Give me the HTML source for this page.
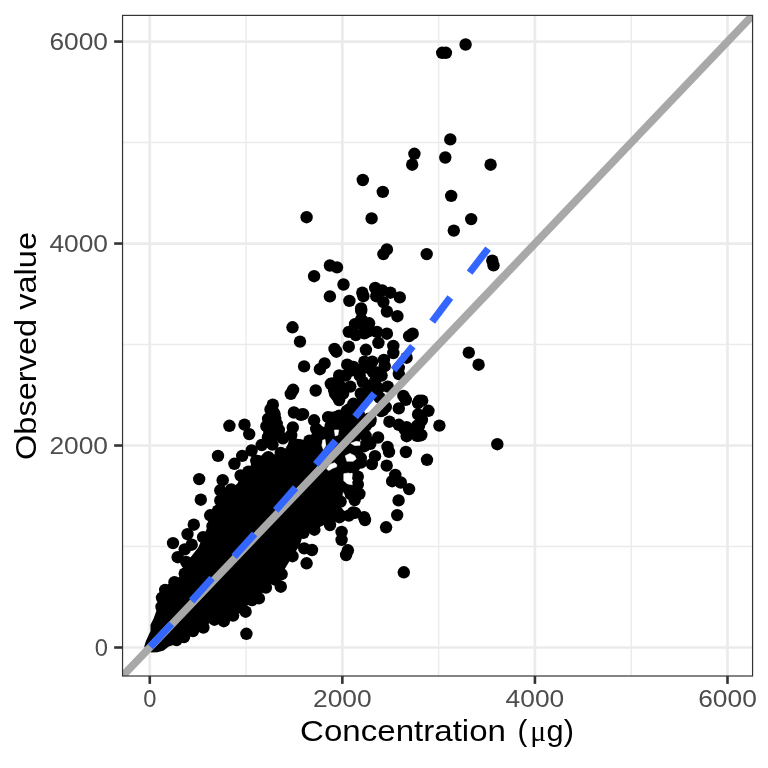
<!DOCTYPE html>
<html><head><meta charset="utf-8"><style>html,body{margin:0;padding:0;background:#fff;width:768px;height:768px;overflow:hidden}svg{display:block}</style></head>
<body><svg width="768" height="768" viewBox="0 0 768 768">
<rect width="768" height="768" fill="#fff"/>
<defs><filter id="gs" x="0" y="0" width="768" height="768" filterUnits="userSpaceOnUse"><feColorMatrix type="saturate" values="0"/></filter><clipPath id="cp"><rect x="122.55" y="15.4" width="630.0200000000001" height="660.6"/></clipPath></defs>
<line x1="246.06" y1="15.4" x2="246.06" y2="676.0" stroke="#ebebeb" stroke-width="1.4"/>
<line x1="122.55" y1="546.51" x2="752.57" y2="546.51" stroke="#ebebeb" stroke-width="1.4"/>
<line x1="438.63" y1="15.4" x2="438.63" y2="676.0" stroke="#ebebeb" stroke-width="1.4"/>
<line x1="122.55" y1="344.54" x2="752.57" y2="344.54" stroke="#ebebeb" stroke-width="1.4"/>
<line x1="631.21" y1="15.4" x2="631.21" y2="676.0" stroke="#ebebeb" stroke-width="1.4"/>
<line x1="122.55" y1="142.56" x2="752.57" y2="142.56" stroke="#ebebeb" stroke-width="1.4"/>
<line x1="149.77" y1="15.4" x2="149.77" y2="676.0" stroke="#ebebeb" stroke-width="2.7"/>
<line x1="122.55" y1="647.50" x2="752.57" y2="647.50" stroke="#ebebeb" stroke-width="2.7"/>
<line x1="342.35" y1="15.4" x2="342.35" y2="676.0" stroke="#ebebeb" stroke-width="2.7"/>
<line x1="122.55" y1="445.52" x2="752.57" y2="445.52" stroke="#ebebeb" stroke-width="2.7"/>
<line x1="534.92" y1="15.4" x2="534.92" y2="676.0" stroke="#ebebeb" stroke-width="2.7"/>
<line x1="122.55" y1="243.55" x2="752.57" y2="243.55" stroke="#ebebeb" stroke-width="2.7"/>
<line x1="727.50" y1="15.4" x2="727.50" y2="676.0" stroke="#ebebeb" stroke-width="2.7"/>
<line x1="122.55" y1="41.57" x2="752.57" y2="41.57" stroke="#ebebeb" stroke-width="2.7"/>
<g clip-path="url(#cp)">
<path d="M144.2,646.7 L145.8,641.2 L150.5,631.1 L150.5,624.8 L153.6,618.6 L155.9,612.3 L157.5,607.0 L158.8,605.8 L160.8,593.3 L169.2,582.9 L179.6,576.7 L183.8,564.2 L190.0,557.9 L198.3,547.5 L202.9,536.7 L207.1,528.3 L209.2,515.8 L215.4,509.6 L219.6,501.2 L219.6,490.8 L227.9,488.8 L236.2,486.7 L240.4,476.2 L248.8,470.0 L252.9,459.6 L259.0,455.0 L264.0,456.5 L270.0,455.0 L276.0,454.0 L284.0,451.0 L288.0,444.0 L290.4,432.5 L296.7,440.8 L305.0,440.8 L313.3,432.5 L325.8,428.3 L340.0,428.3 L345.0,420.0 L353.0,403.0 L361.0,393.0 L369.0,386.0 L378.0,388.0 L388.0,385.0 L378.0,393.0 L366.0,399.0 L361.0,412.0 L362.0,425.0 L355.0,440.0 L362.0,447.0 L358.0,460.0 L352.0,468.0 L345.0,475.0 L342.0,500.0 L340.0,515.0 L330.0,522.0 L314.4,529.7 L303.4,532.8 L300.0,545.0 L292.5,556.2 L281.6,574.2 L275.0,582.0 L265.9,587.5 L258.9,598.4 L251.9,600.0 L245.6,608.0 L233.1,615.0 L223.8,619.0 L214.4,619.7 L203.4,627.5 L193.0,631.0 L184.0,637.0 L176.5,640.0 L174.7,644.4 L168.4,646.7 L163.8,650.6 L157.5,652.2 L151.2,652.6 Z" fill="#000"/>
<circle cx="465.6" cy="44.5" r="6.2"/>
<circle cx="442.2" cy="52.8" r="6.2"/>
<circle cx="445.9" cy="52.8" r="6.2"/>
<circle cx="450.3" cy="139.4" r="6.2"/>
<circle cx="414.4" cy="153.8" r="6.2"/>
<circle cx="412.2" cy="164.7" r="6.2"/>
<circle cx="445.3" cy="157.5" r="6.2"/>
<circle cx="490.6" cy="164.7" r="6.2"/>
<circle cx="362.8" cy="180.0" r="6.2"/>
<circle cx="382.8" cy="191.9" r="6.2"/>
<circle cx="451.2" cy="195.9" r="6.2"/>
<circle cx="306.6" cy="217.2" r="6.2"/>
<circle cx="371.6" cy="218.4" r="6.2"/>
<circle cx="471.2" cy="219.1" r="6.2"/>
<circle cx="453.8" cy="230.6" r="6.2"/>
<circle cx="386.9" cy="249.4" r="6.2"/>
<circle cx="383.4" cy="254.1" r="6.2"/>
<circle cx="426.7" cy="254.1" r="6.2"/>
<circle cx="492.3" cy="260.6" r="6.2"/>
<circle cx="493.5" cy="265.3" r="6.2"/>
<circle cx="343.5" cy="284.5" r="6.2"/>
<circle cx="362.3" cy="292.7" r="6.2"/>
<circle cx="363.4" cy="296.2" r="6.2"/>
<circle cx="375.2" cy="288.0" r="6.2"/>
<circle cx="382.2" cy="290.4" r="6.2"/>
<circle cx="390.4" cy="292.7" r="6.2"/>
<circle cx="399.8" cy="297.4" r="6.2"/>
<circle cx="376.3" cy="296.2" r="6.2"/>
<circle cx="383.4" cy="302.1" r="6.2"/>
<circle cx="349.4" cy="300.9" r="6.2"/>
<circle cx="361.1" cy="308.4" r="6.2"/>
<circle cx="386.9" cy="311.5" r="6.2"/>
<circle cx="397.4" cy="316.2" r="6.2"/>
<circle cx="412.7" cy="333.7" r="6.2"/>
<circle cx="409.1" cy="336.1" r="6.2"/>
<circle cx="386.9" cy="333.7" r="6.2"/>
<circle cx="329.9" cy="265.5" r="6.2"/>
<circle cx="337.0" cy="267.4" r="6.2"/>
<circle cx="314.1" cy="276.2" r="6.2"/>
<circle cx="329.9" cy="296.4" r="6.2"/>
<circle cx="292.5" cy="327.3" r="6.2"/>
<circle cx="300.0" cy="341.6" r="6.2"/>
<circle cx="334.5" cy="348.9" r="6.2"/>
<circle cx="336.4" cy="351.7" r="6.2"/>
<circle cx="361.2" cy="310.8" r="6.2"/>
<circle cx="361.2" cy="319.4" r="6.2"/>
<circle cx="355.0" cy="324.1" r="6.2"/>
<circle cx="369.1" cy="323.3" r="6.2"/>
<circle cx="348.8" cy="331.9" r="6.2"/>
<circle cx="355.8" cy="335.0" r="6.2"/>
<circle cx="364.4" cy="333.4" r="6.2"/>
<circle cx="376.9" cy="331.9" r="6.2"/>
<circle cx="378.4" cy="342.8" r="6.2"/>
<circle cx="348.8" cy="346.7" r="6.2"/>
<circle cx="365.9" cy="349.8" r="6.2"/>
<circle cx="393.3" cy="345.9" r="6.2"/>
<circle cx="393.3" cy="353.0" r="6.2"/>
<circle cx="406.6" cy="357.7" r="6.2"/>
<circle cx="347.2" cy="364.7" r="6.2"/>
<circle cx="353.4" cy="367.0" r="6.2"/>
<circle cx="364.4" cy="361.6" r="6.2"/>
<circle cx="372.2" cy="361.6" r="6.2"/>
<circle cx="383.9" cy="360.0" r="6.2"/>
<circle cx="384.7" cy="366.2" r="6.2"/>
<circle cx="398.8" cy="367.8" r="6.2"/>
<circle cx="398.8" cy="374.1" r="6.2"/>
<circle cx="345.6" cy="375.6" r="6.2"/>
<circle cx="359.7" cy="375.6" r="6.2"/>
<circle cx="376.9" cy="372.5" r="6.2"/>
<circle cx="381.6" cy="375.6" r="6.2"/>
<circle cx="333.1" cy="383.4" r="6.2"/>
<circle cx="350.3" cy="386.6" r="6.2"/>
<circle cx="362.8" cy="381.9" r="6.2"/>
<circle cx="375.3" cy="380.3" r="6.2"/>
<circle cx="387.8" cy="386.6" r="6.2"/>
<circle cx="339.4" cy="394.4" r="6.2"/>
<circle cx="362.8" cy="394.4" r="6.2"/>
<circle cx="376.9" cy="389.7" r="6.2"/>
<circle cx="403.4" cy="395.9" r="6.2"/>
<circle cx="405.8" cy="399.8" r="6.2"/>
<circle cx="422.2" cy="400.6" r="6.2"/>
<circle cx="353.4" cy="403.8" r="6.2"/>
<circle cx="398.8" cy="408.4" r="6.2"/>
<circle cx="428.4" cy="410.8" r="6.2"/>
<circle cx="420.6" cy="416.2" r="6.2"/>
<circle cx="383.1" cy="410.0" r="6.2"/>
<circle cx="331.6" cy="417.8" r="6.2"/>
<circle cx="344.1" cy="416.2" r="6.2"/>
<circle cx="370.6" cy="419.4" r="6.2"/>
<circle cx="389.4" cy="421.7" r="6.2"/>
<circle cx="398.8" cy="424.8" r="6.2"/>
<circle cx="406.6" cy="427.2" r="6.2"/>
<circle cx="419.1" cy="425.6" r="6.2"/>
<circle cx="439.4" cy="425.6" r="6.2"/>
<circle cx="339.4" cy="425.6" r="6.2"/>
<circle cx="365.9" cy="425.6" r="6.2"/>
<circle cx="468.8" cy="352.6" r="6.2"/>
<circle cx="478.6" cy="364.7" r="6.2"/>
<circle cx="421.3" cy="435.0" r="6.2"/>
<circle cx="497.3" cy="444.2" r="6.2"/>
<circle cx="419.5" cy="435.6" r="6.2"/>
<circle cx="407.8" cy="434.1" r="6.2"/>
<circle cx="404.7" cy="429.4" r="6.2"/>
<circle cx="421.9" cy="420.0" r="6.2"/>
<circle cx="405.9" cy="452.0" r="6.2"/>
<circle cx="427.0" cy="459.8" r="6.2"/>
<circle cx="400.8" cy="482.5" r="6.2"/>
<circle cx="409.1" cy="489.1" r="6.2"/>
<circle cx="398.6" cy="500.4" r="6.2"/>
<circle cx="397.2" cy="515.1" r="6.2"/>
<circle cx="418.0" cy="403.1" r="6.2"/>
<circle cx="415.6" cy="429.7" r="6.2"/>
<circle cx="417.2" cy="435.9" r="6.2"/>
<circle cx="378.1" cy="437.5" r="6.2"/>
<circle cx="387.5" cy="446.9" r="6.2"/>
<circle cx="370.3" cy="443.8" r="6.2"/>
<circle cx="375.0" cy="456.2" r="6.2"/>
<circle cx="357.8" cy="450.0" r="6.2"/>
<circle cx="345.3" cy="450.0" r="6.2"/>
<circle cx="386.7" cy="465.6" r="6.2"/>
<circle cx="360.9" cy="462.5" r="6.2"/>
<circle cx="339.1" cy="459.4" r="6.2"/>
<circle cx="350.0" cy="465.6" r="6.2"/>
<circle cx="371.9" cy="464.1" r="6.2"/>
<circle cx="395.3" cy="475.0" r="6.2"/>
<circle cx="392.2" cy="481.2" r="6.2"/>
<circle cx="357.8" cy="476.6" r="6.2"/>
<circle cx="357.8" cy="484.4" r="6.2"/>
<circle cx="348.4" cy="489.1" r="6.2"/>
<circle cx="359.4" cy="493.8" r="6.2"/>
<circle cx="354.7" cy="500.0" r="6.2"/>
<circle cx="364.1" cy="517.2" r="6.2"/>
<circle cx="340.6" cy="501.6" r="6.2"/>
<circle cx="353.1" cy="512.5" r="6.2"/>
<circle cx="337.5" cy="512.5" r="6.2"/>
<circle cx="303.1" cy="414.1" r="6.2"/>
<circle cx="314.1" cy="420.3" r="6.2"/>
<circle cx="328.1" cy="417.2" r="6.2"/>
<circle cx="339.1" cy="415.6" r="6.2"/>
<circle cx="346.9" cy="410.9" r="6.2"/>
<circle cx="339.1" cy="400.0" r="6.2"/>
<circle cx="309.4" cy="440.6" r="6.2"/>
<circle cx="318.8" cy="431.2" r="6.2"/>
<circle cx="331.2" cy="429.7" r="6.2"/>
<circle cx="300.0" cy="445.3" r="6.2"/>
<circle cx="365.6" cy="435.9" r="6.2"/>
<circle cx="360.9" cy="431.2" r="6.2"/>
<circle cx="368.8" cy="418.8" r="6.2"/>
<circle cx="381.0" cy="411.0" r="6.2"/>
<circle cx="386.1" cy="527.3" r="6.2"/>
<circle cx="365.0" cy="520.0" r="6.2"/>
<circle cx="340.8" cy="515.6" r="6.2"/>
<circle cx="341.6" cy="532.0" r="6.2"/>
<circle cx="341.6" cy="539.8" r="6.2"/>
<circle cx="347.9" cy="550.3" r="6.2"/>
<circle cx="346.1" cy="555.0" r="6.2"/>
<circle cx="403.8" cy="572.3" r="6.2"/>
<circle cx="339.4" cy="517.2" r="6.2"/>
<circle cx="348.8" cy="515.6" r="6.2"/>
<circle cx="330.0" cy="525.0" r="6.2"/>
<circle cx="314.4" cy="529.7" r="6.2"/>
<circle cx="303.4" cy="532.8" r="6.2"/>
<circle cx="304.2" cy="548.4" r="6.2"/>
<circle cx="312.0" cy="550.0" r="6.2"/>
<circle cx="306.6" cy="563.3" r="6.2"/>
<circle cx="292.5" cy="556.2" r="6.2"/>
<circle cx="281.6" cy="574.2" r="6.2"/>
<circle cx="280.8" cy="586.7" r="6.2"/>
<circle cx="265.9" cy="587.5" r="6.2"/>
<circle cx="258.9" cy="598.4" r="6.2"/>
<circle cx="251.9" cy="600.0" r="6.2"/>
<circle cx="245.6" cy="611.7" r="6.2"/>
<circle cx="233.1" cy="615.6" r="6.2"/>
<circle cx="275.3" cy="579.7" r="6.2"/>
<circle cx="173.0" cy="543.1" r="6.2"/>
<circle cx="177.7" cy="557.2" r="6.2"/>
<circle cx="184.7" cy="549.4" r="6.2"/>
<circle cx="191.7" cy="544.7" r="6.2"/>
<circle cx="186.2" cy="561.9" r="6.2"/>
<circle cx="184.7" cy="573.6" r="6.2"/>
<circle cx="174.5" cy="582.2" r="6.2"/>
<circle cx="165.2" cy="590.0" r="6.2"/>
<circle cx="162.0" cy="597.8" r="6.2"/>
<circle cx="161.5" cy="607.0" r="6.2"/>
<circle cx="176.5" cy="640.0" r="6.2"/>
<circle cx="184.0" cy="637.0" r="6.2"/>
<circle cx="193.0" cy="631.0" r="6.2"/>
<circle cx="203.4" cy="627.5" r="6.2"/>
<circle cx="214.4" cy="619.7" r="6.2"/>
<circle cx="223.8" cy="621.2" r="6.2"/>
<circle cx="239.4" cy="607.2" r="6.2"/>
<circle cx="246.4" cy="633.8" r="6.2"/>
<circle cx="229.4" cy="425.8" r="6.2"/>
<circle cx="244.5" cy="424.7" r="6.2"/>
<circle cx="249.2" cy="434.1" r="6.2"/>
<circle cx="266.4" cy="426.2" r="6.2"/>
<circle cx="268.0" cy="437.2" r="6.2"/>
<circle cx="261.7" cy="445.0" r="6.2"/>
<circle cx="251.6" cy="450.5" r="6.2"/>
<circle cx="242.2" cy="455.9" r="6.2"/>
<circle cx="234.4" cy="463.8" r="6.2"/>
<circle cx="218.0" cy="455.9" r="6.2"/>
<circle cx="240.6" cy="475.5" r="6.2"/>
<circle cx="248.4" cy="471.6" r="6.2"/>
<circle cx="256.2" cy="460.6" r="6.2"/>
<circle cx="266.4" cy="459.1" r="6.2"/>
<circle cx="199.2" cy="479.1" r="6.2"/>
<circle cx="222.7" cy="480.2" r="6.2"/>
<circle cx="220.3" cy="490.3" r="6.2"/>
<circle cx="231.2" cy="489.5" r="6.2"/>
<circle cx="240.6" cy="488.8" r="6.2"/>
<circle cx="200.8" cy="499.7" r="6.2"/>
<circle cx="220.3" cy="500.5" r="6.2"/>
<circle cx="231.2" cy="507.5" r="6.2"/>
<circle cx="210.2" cy="515.3" r="6.2"/>
<circle cx="218.0" cy="510.6" r="6.2"/>
<circle cx="193.8" cy="524.7" r="6.2"/>
<circle cx="187.5" cy="534.1" r="6.2"/>
<circle cx="203.1" cy="537.2" r="6.2"/>
<circle cx="212.5" cy="526.2" r="6.2"/>
<circle cx="304.1" cy="366.4" r="6.2"/>
<circle cx="293.1" cy="389.8" r="6.2"/>
<circle cx="290.8" cy="393.8" r="6.2"/>
<circle cx="272.8" cy="404.7" r="6.2"/>
<circle cx="270.5" cy="409.4" r="6.2"/>
<circle cx="273.6" cy="412.5" r="6.2"/>
<circle cx="293.9" cy="412.5" r="6.2"/>
<circle cx="300.9" cy="414.8" r="6.2"/>
<circle cx="268.1" cy="418.8" r="6.2"/>
<circle cx="275.2" cy="418.8" r="6.2"/>
<circle cx="324.6" cy="363.4" r="6.2"/>
<circle cx="319.9" cy="369.2" r="6.2"/>
<circle cx="339.2" cy="375.4" r="6.2"/>
<circle cx="315.7" cy="390.5" r="6.2"/>
<circle cx="330.8" cy="383.8" r="6.2"/>
<circle cx="334.0" cy="390.0" r="6.2"/>
<circle cx="337.1" cy="396.2" r="6.2"/>
<circle cx="339.2" cy="384.8" r="6.2"/>
<circle cx="336.0" cy="417.1" r="6.2"/>
<circle cx="292.8" cy="427.4" r="6.2"/>
<circle cx="291.2" cy="435.2" r="6.2"/>
<circle cx="316.2" cy="429.0" r="6.2"/>
<circle cx="326.7" cy="432.1" r="6.2"/>
<circle cx="330.8" cy="425.8" r="6.2"/>
<circle cx="318.3" cy="438.3" r="6.2"/>
<circle cx="296.5" cy="444.6" r="6.2"/>
<circle cx="272.5" cy="444.6" r="6.2"/>
<circle cx="282.9" cy="438.3" r="6.2"/>
<circle cx="268.3" cy="457.1" r="6.2"/>
<circle cx="280.8" cy="452.9" r="6.2"/>
<circle cx="291.2" cy="455.0" r="6.2"/>
<circle cx="303.8" cy="452.9" r="6.2"/>
<circle cx="314.2" cy="450.8" r="6.2"/>
<circle cx="337.1" cy="438.3" r="6.2"/>
<circle cx="332.9" cy="432.1" r="6.2"/>
<circle cx="274.6" cy="414.4" r="6.2"/>
<circle cx="276.7" cy="423.8" r="6.2"/>
<circle cx="278.8" cy="430.0" r="6.2"/>
<circle cx="269.4" cy="432.1" r="6.2"/>
<circle cx="271.5" cy="438.3" r="6.2"/>
<circle cx="335.0" cy="393.5" r="6.2"/>
<circle cx="419.2" cy="400.8" r="6.2"/>
<circle cx="385.8" cy="407.1" r="6.2"/>
<circle cx="418.1" cy="414.4" r="6.2"/>
<circle cx="407.7" cy="429.0" r="6.2"/>
<circle cx="406.7" cy="436.2" r="6.2"/>
<circle cx="417.1" cy="425.8" r="6.2"/>
<circle cx="370.2" cy="421.7" r="6.2"/>
<circle cx="362.9" cy="433.1" r="6.2"/>
<circle cx="368.1" cy="441.5" r="6.2"/>
<circle cx="389.0" cy="451.9" r="6.2"/>
<circle cx="360.8" cy="458.1" r="6.2"/>
<circle cx="343.1" cy="393.5" r="6.2"/>
<circle cx="360.8" cy="393.5" r="6.2"/>
<circle cx="369.2" cy="386.2" r="6.2"/>
<circle cx="378.5" cy="388.3" r="6.2"/>
<circle cx="349.4" cy="409.2" r="6.2"/>
<circle cx="348.3" cy="419.6" r="6.2"/>
<circle cx="344.2" cy="426.9" r="6.2"/>
<circle cx="351.5" cy="427.9" r="6.2"/>
<circle cx="346.2" cy="435.2" r="6.2"/>
<circle cx="354.6" cy="438.3" r="6.2"/>
<circle cx="360.8" cy="404.0" r="6.2"/>
<circle cx="379.6" cy="397.7" r="6.2"/>
<circle cx="343.1" cy="441.5" r="6.2"/>
<circle cx="366.0" cy="395.6" r="6.2"/>
<circle cx="358.8" cy="414.4" r="6.2"/>
<circle cx="362.9" cy="421.7" r="6.2"/>
<circle cx="355.6" cy="421.7" r="6.2"/>
<circle cx="364.6" cy="329.2" r="6.2"/>
<circle cx="368.8" cy="331.2" r="6.2"/>
<circle cx="364.6" cy="367.7" r="6.2"/>
<circle cx="372.9" cy="371.9" r="6.2"/>
<circle cx="350.0" cy="370.8" r="6.2"/>
<circle cx="362.5" cy="320.8" r="6.2"/>
<circle cx="340.4" cy="483.8" r="6.2"/>
<circle cx="334.2" cy="471.2" r="6.2"/>
<circle cx="338.3" cy="471.2" r="6.2"/>
<circle cx="333.1" cy="483.8" r="6.2"/>
<circle cx="333.1" cy="496.2" r="6.2"/>
<circle cx="354.0" cy="467.1" r="6.2"/>
<circle cx="347.7" cy="468.1" r="6.2"/>
<circle cx="350.8" cy="494.2" r="6.2"/>
<circle cx="336.2" cy="515.0" r="6.2"/>
<circle cx="355.0" cy="512.9" r="6.2"/>
<circle cx="364.4" cy="446.2" r="6.2"/>
<path d="M345.3,455.8 L350.0,453.4 L354.7,455.8 L356.2,458.9 L353.1,461.2 L346.9,461.2 Z" fill="#fff" stroke="#fff" stroke-width="0.6" stroke-linejoin="round"/>
<path d="M326.6,469.1 L329.7,464.4 L334.4,462.8 L336.7,464.4 L336.7,466.7 L332.8,468.3 L328.9,470.6 Z" fill="#fff" stroke="#fff" stroke-width="0.6" stroke-linejoin="round"/>
<path d="M343.8,473.8 L348.4,473.0 L352.3,474.5 L351.6,480.0 L352.3,484.7 L347.7,483.9 L343.8,480.8 Z" fill="#fff" stroke="#fff" stroke-width="0.6" stroke-linejoin="round"/>
<path d="M322.7,440.2 L325.0,439.4 L325.8,445.6 L323.4,449.5 L321.9,445.6 Z" fill="#fff" stroke="#fff" stroke-width="0.6" stroke-linejoin="round"/>
<path d="M334.4,430.0 L338.7,430.0 L337.9,435.1 L335.2,435.9 Z" fill="#fff" stroke="#fff" stroke-width="0.6" stroke-linejoin="round"/>
<path d="M350.8,443.3 L356.2,441.3 L360.0,442.1 L360.0,445.2 L354.7,445.6 Z" fill="#fff" stroke="#fff" stroke-width="0.6" stroke-linejoin="round"/>
<line x1="122.55" y1="676.0" x2="752.57" y2="15.4" stroke="#a8a8a8" stroke-width="7.8"/>
<line x1="150.3" y1="646.7" x2="171.6" y2="623.9" stroke="#3366ff" stroke-width="7.2"/>
<line x1="191.6" y1="601.0" x2="212.1" y2="578.2" stroke="#3366ff" stroke-width="7.2"/>
<line x1="234.1" y1="556.7" x2="254.6" y2="533.9" stroke="#3366ff" stroke-width="7.2"/>
<line x1="275.7" y1="510.4" x2="295.6" y2="487.6" stroke="#3366ff" stroke-width="7.2"/>
<line x1="315.8" y1="464.4" x2="335.7" y2="440.9" stroke="#3366ff" stroke-width="7.2"/>
<line x1="355.1" y1="416.9" x2="374.4" y2="393.5" stroke="#3366ff" stroke-width="7.2"/>
<line x1="393.6" y1="370.0" x2="412.8" y2="346.2" stroke="#3366ff" stroke-width="7.2"/>
<line x1="432.2" y1="321.6" x2="450.3" y2="297.5" stroke="#3366ff" stroke-width="7.2"/>
<line x1="469.6" y1="272.6" x2="488.1" y2="248.6" stroke="#3366ff" stroke-width="7.2"/>
</g>
<rect x="122.55" y="15.4" width="630.02" height="660.60" fill="none" stroke="#333" stroke-width="1.2"/>
<line x1="149.77" y1="676.0" x2="149.77" y2="683.9" stroke="#333" stroke-width="2.6"/>
<line x1="114.14999999999999" y1="647.50" x2="122.55" y2="647.50" stroke="#333" stroke-width="2.6"/>
<line x1="342.35" y1="676.0" x2="342.35" y2="683.9" stroke="#333" stroke-width="2.6"/>
<line x1="114.14999999999999" y1="445.52" x2="122.55" y2="445.52" stroke="#333" stroke-width="2.6"/>
<line x1="534.92" y1="676.0" x2="534.92" y2="683.9" stroke="#333" stroke-width="2.6"/>
<line x1="114.14999999999999" y1="243.55" x2="122.55" y2="243.55" stroke="#333" stroke-width="2.6"/>
<line x1="727.50" y1="676.0" x2="727.50" y2="683.9" stroke="#333" stroke-width="2.6"/>
<line x1="114.14999999999999" y1="41.57" x2="122.55" y2="41.57" stroke="#333" stroke-width="2.6"/>
<g filter="url(#gs)">
<text x="108.0" y="655.80" font-family="Liberation Sans, sans-serif" font-size="23.6" fill="#4d4d4d" text-anchor="end" textLength="13.2" lengthAdjust="spacingAndGlyphs">0</text>
<text x="149.77" y="706.8" font-family="Liberation Sans, sans-serif" font-size="23.6" fill="#4d4d4d" text-anchor="middle" textLength="13.2" lengthAdjust="spacingAndGlyphs">0</text>
<text x="108.0" y="453.82" font-family="Liberation Sans, sans-serif" font-size="23.6" fill="#4d4d4d" text-anchor="end" textLength="58.6" lengthAdjust="spacingAndGlyphs">2000</text>
<text x="342.35" y="706.8" font-family="Liberation Sans, sans-serif" font-size="23.6" fill="#4d4d4d" text-anchor="middle" textLength="58.6" lengthAdjust="spacingAndGlyphs">2000</text>
<text x="108.0" y="251.85" font-family="Liberation Sans, sans-serif" font-size="23.6" fill="#4d4d4d" text-anchor="end" textLength="58.6" lengthAdjust="spacingAndGlyphs">4000</text>
<text x="534.92" y="706.8" font-family="Liberation Sans, sans-serif" font-size="23.6" fill="#4d4d4d" text-anchor="middle" textLength="58.6" lengthAdjust="spacingAndGlyphs">4000</text>
<text x="108.0" y="49.87" font-family="Liberation Sans, sans-serif" font-size="23.6" fill="#4d4d4d" text-anchor="end" textLength="58.6" lengthAdjust="spacingAndGlyphs">6000</text>
<text x="727.50" y="706.8" font-family="Liberation Sans, sans-serif" font-size="23.6" fill="#4d4d4d" text-anchor="middle" textLength="58.6" lengthAdjust="spacingAndGlyphs">6000</text>
<text x="300.0" y="741.2" font-family="Liberation Sans, sans-serif" font-size="29.5" fill="#000" textLength="206.0" lengthAdjust="spacingAndGlyphs">Concentration</text>
<text x="517.5" y="741.2" font-family="Liberation Sans, sans-serif" font-size="29.5" fill="#000">(</text>
<text x="530.2" y="741.2" font-family="Liberation Serif, serif" font-size="29.5" fill="#000">μ</text>
<text x="546.6" y="741.2" font-family="Liberation Sans, sans-serif" font-size="29.5" fill="#000" textLength="27.3" lengthAdjust="spacingAndGlyphs">g)</text>
<text transform="translate(36.0,460.0) rotate(-90)" font-family="Liberation Sans, sans-serif" font-size="29.5" fill="#000" textLength="228.0" lengthAdjust="spacingAndGlyphs">Observed value</text>
</g>
</svg></body></html>
